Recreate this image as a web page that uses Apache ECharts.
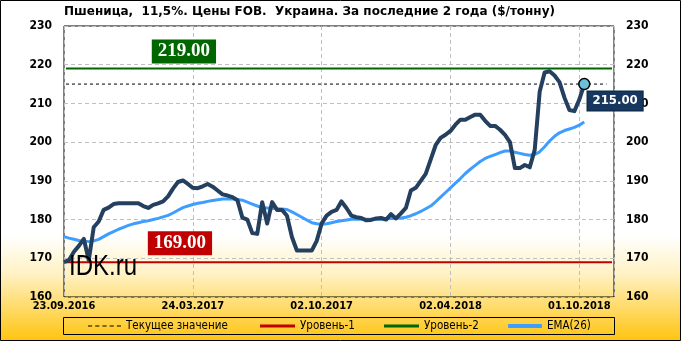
<!DOCTYPE html>
<html>
<head>
<meta charset="utf-8">
<script src="https://cdn.jsdelivr.net/npm/echarts@6/dist/echarts.min.js"></script>
<style>html,body{margin:0;padding:0;background:#fff}#c{width:681px;height:341px}</style>
</head>
<body>
<div id="c"></div>
<script>
// ---- data ----
const TITLE = 'Пшеница,  11,5%. Цены FOB.  Украина. За последние 2 года ($/тонну)';
const TICK_LABELS = ['23.09.2016', '24.03.2017', '02.10.2017', '02.04.2018', '01.10.2018'];
const TICK_STEP = 26;
const PRICE = [169,169.5,171.7,173.2,175,169.5,178,179.5,182.5,183.1,
  184,184.2,184.2,184.2,184.2,184.2,183.5,183,183.8,184.2,
  184.7,186,188,189.7,190.1,189.2,188.2,188.1,188.6,189.2,
  188.5,187.5,186.5,186.2,185.8,185,180.5,180,176.5,176.3,
  184.5,179,184.5,182.5,182.5,181,175.5,172,172,172,
  172,174.5,179,181,182,182.5,184.7,183,181,180.6,
  180.4,179.8,179.9,180.3,180.4,180,181.4,180.3,181.6,183,
  187.5,188.2,190,191.8,195.5,199.2,201.1,201.9,202.9,204.5,
  205.8,205.8,206.5,207.1,207.1,205.5,204.2,204.2,203.2,201.9,
  200,193.3,193.3,194.1,193.5,198,213,218,218.3,217.2,
  215.5,211.5,208.3,208,211,215];
const EMA = [175.6,175.2,174.9,174.6,174.5,174.3,174.5,174.9,175.6,176.3,
  176.9,177.5,178,178.5,178.9,179.2,179.5,179.7,180,180.3,
  180.7,181.1,181.7,182.4,183.1,183.5,183.9,184.2,184.4,184.7,
  184.9,185.1,185.3,185.3,185.3,185.2,185,184.5,184,183.5,
  183.1,183,182.9,182.8,182.7,182.6,182,181.3,180.6,179.9,
  179.2,178.9,178.8,178.9,179.2,179.5,179.7,179.9,180.1,180.1,
  180.1,180.1,180.1,180.1,180.1,180.2,180.3,180.3,180.4,180.6,
  181,181.5,182.1,182.8,183.5,184.6,185.8,187,188.2,189.4,
  190.6,191.9,193,194,195,195.8,196.3,196.8,197.3,197.7,
  197.7,197.4,197.1,196.8,196.6,196.8,197.5,198.8,200.3,201.5,
  202.4,203,203.4,203.8,204.4,205.2];
const LEVEL1 = 169;
const LEVEL2 = 219;
const CURRENT = PRICE[PRICE.length - 1];
const Y_MIN = 160, Y_MAX = 230, Y_STEP = 10;
const LEGEND_NAMES = ['Текущее значение', 'Уровень-1', 'Уровень-2', 'EMA(26)'];

// ---- chart ----
const X_MAX = 111;
const LINE_FROM = 0.4, LINE_TO = 110.6, DASH_TO = 109.5;
const chart = echarts.init(document.getElementById('c'), null, {renderer: 'canvas'});
const FONT = 'DejaVu Sans Condensed';
const yAxisCommon = {
  type: 'value', min: Y_MIN, max: Y_MAX, interval: Y_STEP,
  axisLine: {show: false}, axisTick: {show: false},
  axisLabel: {color: '#000', fontWeight: 'bold', fontSize: 12, fontFamily: FONT, margin: 12}
};
const lastIdx = PRICE.length - 1;
const legendText = {fontSize: 11.5, fontFamily: FONT, color: '#000'};
const DASH_ICON = 'path://M0 0h4v1H0z M7 0h4v1H7z M14 0h4v1h-4z M21 0h4v1h-4z M28 0h4v1h-4z';
const legendLefts = [88, 260, 384, 508];
const legendIcons = [DASH_ICON, 'rect', 'rect', 'roundRect'];
const legendW = [33, 35, 35, 34];
const legendH = [1.5, 3, 3, 4];
const legends = LEGEND_NAMES.map((n, k) => ({
  left: legendLefts[k], top: 320, padding: 0, itemWidth: legendW[k], itemHeight: legendH[k],
  textStyle: legendText, data: [{name: n, icon: legendIcons[k]}], selectedMode: false
}));
const option = {
  animation: false,
  backgroundColor: new echarts.graphic.LinearGradient(0, 0, 0, 1, [
    {offset: 0, color: '#ffffff'}, {offset: 0.69, color: '#ffffff'},
    {offset: 0.8, color: '#FFF2C6'}, {offset: 1, color: '#FFC40F'}]),
  title: {text: TITLE, left: 64, top: 6, padding: 0,
    textStyle: {fontSize: 12, fontWeight: 'bold', fontFamily: 'DejaVu Sans', color: '#000'}},
  grid: {left: 64, right: 67, top: 26, bottom: 44, show: true, borderColor: '#000', borderWidth: 1, backgroundColor: 'transparent'},
  xAxis: {type: 'value', min: 0, max: X_MAX, interval: TICK_STEP,
    axisLine: {show: false}, axisTick: {show: false},
    splitLine: {show: true, lineStyle: {color: '#BFBFBF', type: [4, 3], width: 1}},
    axisLabel: {color: '#000', fontWeight: 'bold', fontSize: 11, fontFamily: FONT, margin: 4, showMaxLabel: true,
      formatter: v => (v % TICK_STEP === 0 && TICK_LABELS[v / TICK_STEP]) ? TICK_LABELS[v / TICK_STEP] : ''}},
  yAxis: [
    Object.assign({}, yAxisCommon, {position: 'left', splitLine: {show: true, lineStyle: {color: '#BFBFBF', type: [4, 3], width: 1}}}),
    Object.assign({}, yAxisCommon, {position: 'right', splitLine: {show: false}})
  ],
  legend: legends,
  series: [
    {name: LEGEND_NAMES[0], type: 'line', symbol: 'none', silent: true, z: 3,
      data: [[LINE_FROM, CURRENT], [DASH_TO, CURRENT]], lineStyle: {color: '#000', width: 1, type: [3, 3]}, itemStyle: {color: '#000'}},
    {name: LEGEND_NAMES[1], type: 'line', symbol: 'none', silent: true, z: 3,
      data: [[LINE_FROM, LEVEL1], [LINE_TO, LEVEL1]], lineStyle: {color: '#C00000', width: 2}, itemStyle: {color: '#C00000'},
      markPoint: {symbol: 'rect', symbolSize: 0, silent: true, data: [{coord: [23.4, LEVEL1]}],
        label: {show: true, formatter: LEVEL1.toFixed(2), color: '#fff', backgroundColor: '#C00000', fontFamily: 'Liberation Serif',
          fontWeight: 'bold', fontSize: 19, padding: [3, 6, 2, 6], offset: [0, -19]}}},
    {name: LEGEND_NAMES[2], type: 'line', symbol: 'none', silent: true, z: 3,
      data: [[LINE_FROM, LEVEL2], [LINE_TO, LEVEL2]], lineStyle: {color: '#006600', width: 2}, itemStyle: {color: '#006600'},
      markPoint: {symbol: 'rect', symbolSize: 0, silent: true, data: [{coord: [24.2, LEVEL2]}],
        label: {show: true, formatter: LEVEL2.toFixed(2), color: '#fff', backgroundColor: '#006600', fontFamily: 'Liberation Serif',
          fontWeight: 'bold', fontSize: 19, padding: [3, 6, 2, 6], offset: [0, -17]}}},
    {name: LEGEND_NAMES[3], type: 'line', symbol: 'none', z: 4,
      data: EMA.map((v, i) => [i, v]), lineStyle: {color: '#3D9EFF', width: 3}, itemStyle: {color: '#3D9EFF'}},
    {name: 'price', type: 'line', symbol: 'none', z: 5,
      data: PRICE.map((v, i) => [i, v]), lineStyle: {color: '#253F5E', width: 4, join: 'round'}, itemStyle: {color: '#253F5E'}},
    {name: 'last', type: 'scatter', z: 6, symbol: 'circle', symbolSize: 11,
      data: [[lastIdx, CURRENT]], itemStyle: {color: '#6BBFD9', borderColor: '#000', borderWidth: 1.5, opacity: 1},
      label: {show: true, position: 'right', distance: 0, offset: [-3, 17], formatter: CURRENT.toFixed(2),
        color: '#fff', backgroundColor: '#17375E', borderColor: '#0d2440', borderWidth: 1, opacity: 1,
        fontFamily: FONT, fontWeight: 'bold', fontSize: 13, padding: [3, 5, 3, 5]}}
  ],
  graphic: [
    {type: 'text', left: 69, top: 253, z: 10, silent: true,
      style: {text: 'IDK.ru', fill: '#000', font: '24px "Liberation Sans"'}, scaleY: 1.2},
    {type: 'rect', z: 10, silent: true, shape: {x: 63.5, y: 317.5, width: 551, height: 17},
      style: {fill: 'none', stroke: '#000', lineWidth: 1}},
    {type: 'rect', z: 10, silent: true, shape: {x: 0.5, y: 0.5, width: 680, height: 340},
      style: {fill: 'none', stroke: '#000', lineWidth: 1}}
  ]
};
chart.setOption(option);
</script>
</body>
</html>
